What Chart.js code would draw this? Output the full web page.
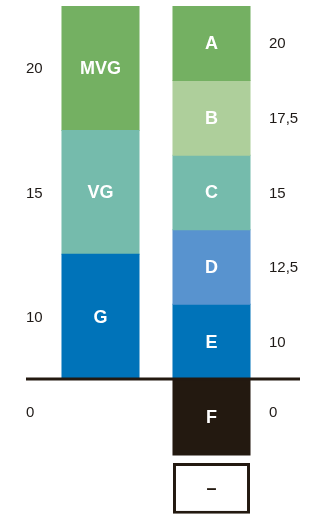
<!DOCTYPE html>
<html>
<head>
<meta charset="utf-8">
<script src="https://cdn.jsdelivr.net/npm/chart.js@4"></script>
<style>
  html, body { margin: 0; padding: 0; background: #fff; }
  #wrap { width: 324px; height: 531px; }
</style>
</head>
<body>
<div id="wrap"><canvas id="myChart" width="324" height="531"></canvas></div>
<script>
// two columns: old scale (left) and new scale (right)
const columns = ['old', 'new'];

// old grades, stacked from the baseline up
const oldGrades = ['G', 'VG', 'MVG'];
const oldSpans = [[0, 1.67], [1.67, 3.33], [3.33, 5]];
const oldPoints = ['10', '15', '20'];

// new grades, top to bottom
const newGrades = ['A', 'B', 'C', 'D', 'E', 'F', '–'];
const newSpans = [[4, 5], [3, 4], [2, 3], [1, 2], [0, 1], [-1.02, 0], [-1.81, -1.13]];
const newPoints = ['20', '17,5', '15', '12,5', '10', '', ''];

const zeroLabel = '0';

const colors = {
  green: '#74b062',
  lightGreen: '#aecf9b',
  teal: '#75bbac',
  lightBlue: '#5893cf',
  blue: '#0073b9',
  dark: '#231910',
  text: '#1f1a17',
};

const oldColors = [colors.blue, colors.teal, colors.green];
const newColors = [colors.green, colors.lightGreen, colors.teal, colors.lightBlue, colors.blue, colors.dark, '#ffffff'];

const datasets = [];
oldGrades.forEach((g, i) => {
  datasets.push({
    label: g,
    data: [oldSpans[i], null],
    backgroundColor: oldColors[i],
    borderWidth: 0,
    inflateAmount: 0.5,
    side: 'left',
    points: oldPoints[i],
  });
});
newGrades.forEach((g, i) => {
  const boxed = g === '–';
  datasets.push({
    label: g,
    data: [null, newSpans[i]],
    backgroundColor: newColors[i],
    borderColor: colors.dark,
    borderWidth: boxed ? 3 : 0,
    borderSkipped: false,
    inflateAmount: boxed ? 0 : 0.5,
    side: 'right',
    points: newPoints[i],
  });
});

const labelPlugin = {
  id: 'gradeLabels',
  afterDatasetsDraw(chart) {
    const ctx = chart.ctx;
    const y = chart.scales.y;
    ctx.save();

    // baseline
    ctx.strokeStyle = colors.dark;
    ctx.lineWidth = 3;
    ctx.beginPath();
    ctx.moveTo(26, Math.round(y.getPixelForValue(0)));
    ctx.lineTo(300, Math.round(y.getPixelForValue(0)));
    ctx.stroke();

    chart.data.datasets.forEach((ds, i) => {
      const meta = chart.getDatasetMeta(i);
      const idx = ds.side === 'left' ? 0 : 1;
      const bar = meta.data[idx];
      if (!bar) return;
      const cy = (bar.y + bar.base) / 2;
      const boxed = ds.label === '–';

      ctx.textAlign = 'center';
      ctx.textBaseline = 'middle';
      ctx.fillStyle = boxed ? colors.dark : '#ffffff';
      ctx.font = 'bold 18px "Liberation Sans Narrow", "Liberation Sans", sans-serif';
      ctx.fillText(ds.label, bar.x, cy + 1);

      if (ds.points) {
        ctx.textAlign = 'left';
        ctx.fillStyle = colors.text;
        ctx.font = '15px "Liberation Sans", sans-serif';
        const tx = ds.side === 'left' ? 26 : 269;
        ctx.fillText(ds.points, tx, cy + 1);
      }
    });

    // zero on both scales, level with F
    const f = chart.getDatasetMeta(oldGrades.length + newGrades.indexOf('F')).data[1];
    const zy = (f.y + f.base) / 2 - 4;
    ctx.textAlign = 'left';
    ctx.fillStyle = colors.text;
    ctx.font = '15px "Liberation Sans", sans-serif';
    ctx.fillText(zeroLabel, 26, zy);
    ctx.fillText(zeroLabel, 269, zy);
    ctx.restore();
  },
};

const ctx = document.getElementById('myChart').getContext('2d');
new Chart(ctx, {
  type: 'bar',
  data: { labels: columns, datasets: datasets },
  options: {
    responsive: false,
    animation: false,
    events: [],
    layout: { padding: { left: 45, right: 57, top: 6, bottom: 3 } },
    datasets: {
      bar: { grouped: false, barPercentage: 1, categoryPercentage: 0.694 },
    },
    plugins: { legend: { display: false }, tooltip: { enabled: false } },
    scales: {
      x: { display: false },
      y: { display: false, min: -2, max: 5 },
    },
  },
  plugins: [labelPlugin],
});
</script>
</body>
</html>
